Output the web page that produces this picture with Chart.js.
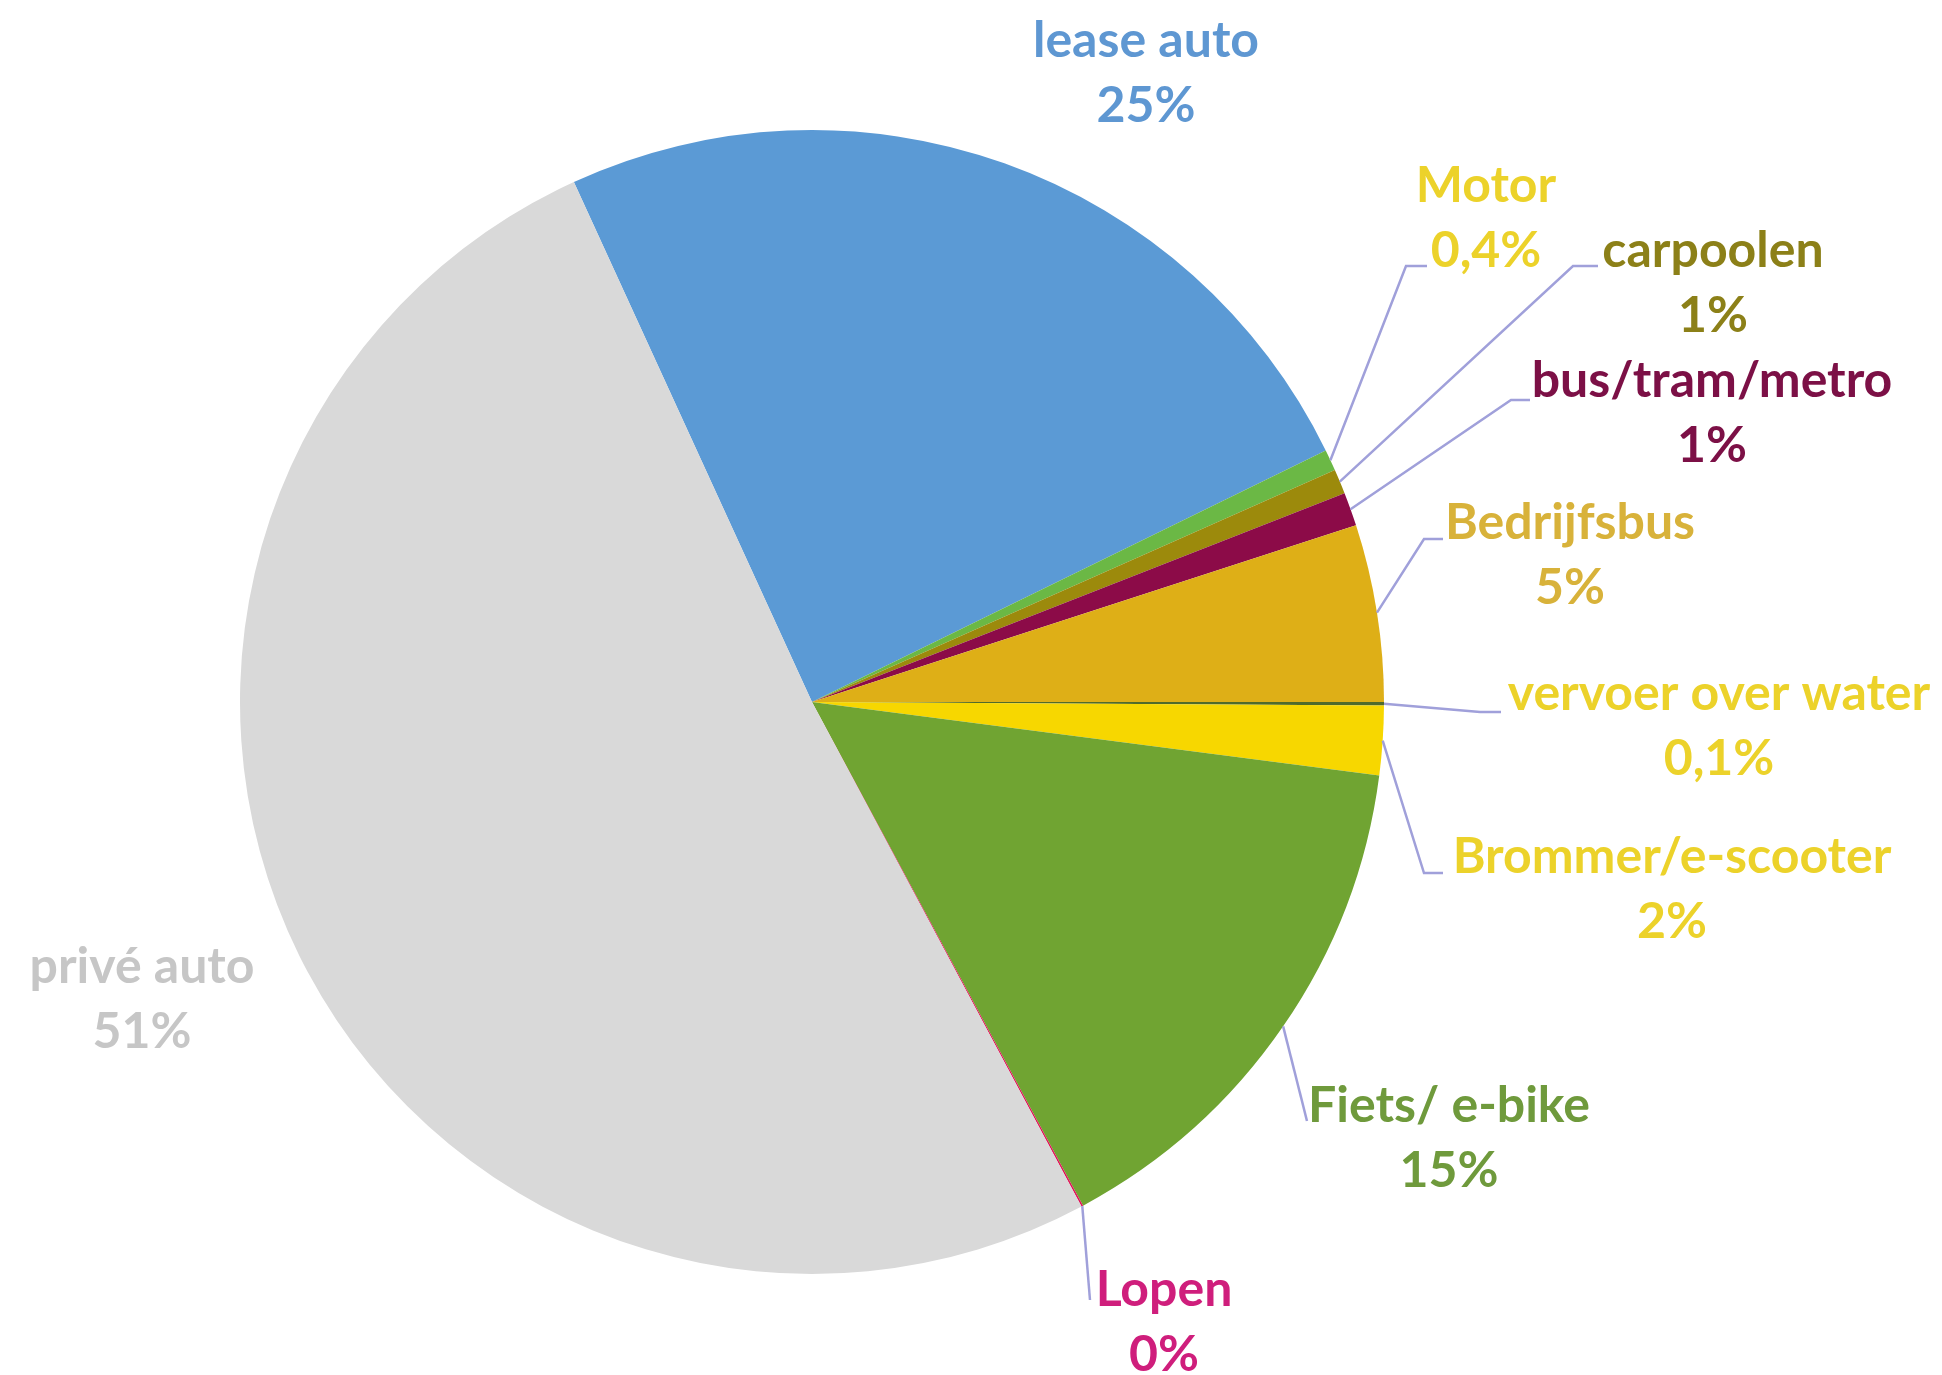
<!DOCTYPE html>
<html>
<head>
<meta charset="utf-8">
<script src="https://cdn.jsdelivr.net/npm/chart.js@4.4.1/dist/chart.umd.min.js"></script>
<style>
  html, body { margin: 0; padding: 0; background: #fff; }
  #wrap { width: 1942px; height: 1375px; position: relative; }
</style>
</head>
<body>
<div id="wrap"><canvas id="modalChart"></canvas></div>
<script>
// --- Data ---
const CATEGORIES = [
  "lease auto", "Motor", "carpoolen", "bus/tram/metro", "Bedrijfsbus",
  "vervoer over water", "Brommer/e-scooter", "Fiets/ e-bike", "Lopen", "privé auto"
];
// slice sizes as drawn (percent)
const SHARES = [24.6, 0.6, 0.7, 0.95, 5, 0.1, 1.95, 15.1, 0.05, 51];
// percentages as printed next to the slices
const PCT_LABELS = ["25%", "0,4%", "1%", "1%", "5%", "0,1%", "2%", "15%", "0%", "51%"];

const SLICE_COLORS = [
  "#5B9AD5", "#6BB845", "#9C8A0C", "#8C0B48", "#DEAF17",
  "#4F6A2C", "#F7D700", "#70A432", "#E0185A", "#D9D9D9"
];
const TEXT_COLORS = [
  "#5E97D2", "#ECD22A", "#8C8018", "#7C1046", "#D8B23A",
  "#ECD22A", "#ECD22A", "#6F9A3C", "#CF1E7C", "#C6C6C6"
];

// label placement (text centre of first line), leader elbow and end
const LABEL_LAYOUT = [
  { x: 1146, y: 41 },
  { x: 1486, y: 186, bend: [1406, 266], end: [1427, 266] },
  { x: 1713, y: 251, bend: [1573, 266], end: [1598, 266] },
  { x: 1712, y: 381, bend: [1511, 400], end: [1530, 400] },
  { x: 1570, y: 523, bend: [1424, 539], end: [1443, 539] },
  { x: 1719, y: 694, bend: [1480, 712], end: [1501, 712] },
  { x: 1672, y: 857, bend: [1424, 873], end: [1443, 873] },
  { x: 1449, y: 1106, end: [1307, 1121] },
  { x: 1164, y: 1290, end: [1090, 1300] },
  { x: 142, y: 967 }
];

const FONT = "bold 50px Lato, 'Open Sans', sans-serif";
const LINE_GAP = 65;
const LEADER_COLOR = "#A0A0DA";

const calloutPlugin = {
  id: "callouts",
  afterDatasetsDraw(chart) {
    const ctx = chart.ctx;
    const arcs = chart.getDatasetMeta(0).data;
    ctx.save();

    // leader lines
    ctx.strokeStyle = LEADER_COLOR;
    ctx.lineWidth = 2.5;
    arcs.forEach((arc, i) => {
      const lay = LABEL_LAYOUT[i];
      if (!lay.end) return;
      const p = arc.getProps(["x", "y", "startAngle", "endAngle", "outerRadius"], true);
      const mid = (p.startAngle + p.endAngle) / 2;
      const sx = p.x + Math.cos(mid) * p.outerRadius;
      const sy = p.y + Math.sin(mid) * p.outerRadius;
      ctx.beginPath();
      ctx.moveTo(sx, sy);
      if (lay.bend) ctx.lineTo(lay.bend[0], lay.bend[1]);
      ctx.lineTo(lay.end[0], lay.end[1]);
      ctx.stroke();
    });

    // texts
    ctx.font = FONT;
    ctx.textAlign = "center";
    ctx.textBaseline = "middle";
    CATEGORIES.forEach((name, i) => {
      const lay = LABEL_LAYOUT[i];
      ctx.fillStyle = TEXT_COLORS[i];
      ctx.fillText(name, lay.x, lay.y);
      ctx.fillText(PCT_LABELS[i], lay.x, lay.y + LINE_GAP);
    });
    ctx.restore();
  }
};

function initChart() {
  const el = document.getElementById("modalChart");
  new Chart(el.getContext("2d"), {
    type: "pie",
    data: {
      labels: CATEGORIES,
      datasets: [{
        data: SHARES,
        backgroundColor: SLICE_COLORS,
        borderWidth: 0,
        hoverOffset: 0,
        offset: 0
      }]
    },
    options: {
      responsive: true,
      maintainAspectRatio: false,
      animation: false,
      rotation: -24.6,
      radius: 572,
      layout: { padding: { left: 240, right: 558, top: 130, bottom: 101 } },
      plugins: { legend: { display: false }, tooltip: { enabled: false } }
    },
    plugins: [calloutPlugin]
  });
}

initChart();
</script>
</body>
</html>
